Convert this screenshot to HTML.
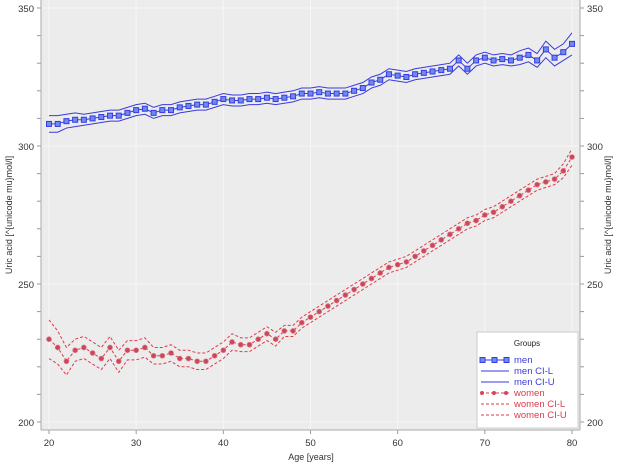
<!DOCTYPE html>
<html><head><meta charset="utf-8"><style>
body{margin:0;background:#fff;font-family:"Liberation Sans",sans-serif;}
svg text{font-family:"Liberation Sans",sans-serif;}
</style></head><body>
<svg id="c" width="623" height="468">
<rect x="41" y="0" width="539" height="430" fill="#ececec"/>
<g id="grid"></g><g id="axes"></g><g id="series"></g>
<text x="12" y="215" transform="rotate(-90 12 215)" text-anchor="middle" font-size="9" fill="#333">Uric acid [^{unicode mu}mol/l]</text>
<text x="611" y="215" transform="rotate(-90 611 215)" text-anchor="middle" font-size="9" fill="#333">Uric acid [^{unicode mu}mol/l]</text>
<text x="311" y="460" text-anchor="middle" font-size="9" fill="#333">Age [years]</text>
<g>
<rect x="477" y="332" width="101" height="96" fill="#fff" stroke="#ccc"/>
<text x="527" y="346" text-anchor="middle" font-size="8" fill="#222">Groups</text>
<g><line x1="481" y1="360" x2="508" y2="360" stroke="#3a3adf"/><rect x="480" y="357.5" width="5" height="5" fill="#6a8cf0" stroke="#3a3adf"/><rect x="492" y="357.5" width="5" height="5" fill="#6a8cf0" stroke="#3a3adf"/><rect x="504" y="357.5" width="5" height="5" fill="#6a8cf0" stroke="#3a3adf"/><text x="514" y="363" font-size="9.5" fill="#3a3adf">men</text></g>
<g><line x1="481" y1="371" x2="509" y2="371" stroke="#3a3adf"/><text x="514" y="374" font-size="9.5" fill="#3a3adf">men CI-L</text></g>
<g><line x1="481" y1="382" x2="509" y2="382" stroke="#3a3adf"/><text x="514" y="385" font-size="9.5" fill="#3a3adf">men CI-U</text></g>
<g><line x1="481" y1="393" x2="509" y2="393" stroke="#e03a4a" stroke-dasharray="3,2"/><circle cx="482" cy="393" r="2" fill="#d04858"/><circle cx="494" cy="393" r="2" fill="#d04858"/><circle cx="506" cy="393" r="2" fill="#d04858"/><text x="514" y="396" font-size="9.5" fill="#e03a4a">women</text></g>
<g><line x1="481" y1="404" x2="509" y2="404" stroke="#e03a4a" stroke-dasharray="3,2"/><text x="514" y="407" font-size="9.5" fill="#e03a4a">women CI-L</text></g>
<g><line x1="481" y1="415" x2="509" y2="415" stroke="#e03a4a" stroke-dasharray="3,2"/><text x="514" y="418" font-size="9.5" fill="#e03a4a">women CI-U</text></g>
</g>
</svg>
<script>
const ages=[];for(let a=20;a<=80;a++)ages.push(a);
const menValues=[308,308,309,309.5,309.5,310,310.5,311,311,312,313,313.5,312,313,313,314,314.5,315,315,316,317,316.5,316.5,317,317,317.5,317,317.5,318,319,319,319.5,319,319,319,320,321,323,324,326,325.5,325,326,326.5,327,327.5,328,331,328,331,332,331,331.5,331,332,333,331,335,332,334,337];
const menCIHalf=[3,3,2.5,2.5,2,2,2,2,2,2,2,2,2,2,2,2,2,2,2,2,2,2,2,2,2,2,2,2,2,2,2,2,2,2,2,2,2,2,2,2,2,2,2,2,2,2,2,2,2,2,2,2,2,2,2.5,2.5,2.5,3,3,3,4];
const womenValues=[230,227,222,226,227,225,223,227,222,226,226,227,224,224,225,223,223,222,222,224,226,229,228,228,230,232,230,233,233,236,238,240,242,244,246,248,250,252,254,256,257,258,260,262,264,266,268,270,272,273,275,276,278,280,282,284,286,287,288,291,296];
const womenCIHalf=[7,6,5,4,4,4,4,4,4,3.5,3.5,3.5,3,3,3,3,3,3,3,3,3,3,2.5,2.5,2.5,2.5,2.5,2,2,2,2,2,2,2,2,2,2,2,2,2,2,2,2,2,2,2,2,2,2,2,2,2,2,2,2,2,2,2,2,2.5,3];
const xTicks=[20,30,40,50,60,70,80];
const yTicks=[200,250,300,350];
const NS="http://www.w3.org/2000/svg";
const X=a=>49+(a-20)*(523/60);
const Y=v=>422-(v-200)*(414/150);
function mk(t,at,p){const e=document.createElementNS(NS,t);for(const k in at)e.setAttribute(k,at[k]);p.appendChild(e);return e;}
const grid=document.getElementById('grid'),axes=document.getElementById('axes'),ser=document.getElementById('series');
xTicks.forEach(t=>{const g=mk('line',{x1:X(t),x2:X(t),y1:0,y2:430,stroke:'#f6f6f6'},grid);


mk('line',{x1:X(t),x2:X(t),y1:430,y2:434,stroke:'#999'},axes);
const l=mk('text',{x:X(t),y:446,'text-anchor':'middle','font-size':'9.5',fill:'#333'},axes);l.textContent=t;

});
for(let v=200;v<=350;v+=10){mk('line',{x1:37,x2:41,y1:Y(v),y2:Y(v),stroke:'#999'},axes);mk('line',{x1:580,x2:584,y1:Y(v),y2:Y(v),stroke:'#999'},axes);}
yTicks.forEach(t=>{const g=mk('line',{x1:41,x2:580,y1:Y(t),y2:Y(t),stroke:'#f6f6f6'},grid);


const l=mk('text',{x:34,y:Y(t)+4,'text-anchor':'end','font-size':'9.5',fill:'#333'},axes);l.textContent=t;


const r=mk('text',{x:587,y:Y(t)+4,'font-size':'9.5',fill:'#333'},axes);r.textContent=t;

});
mk('line',{x1:41,x2:41,y1:0,y2:430,stroke:'#aaa'},axes);mk('line',{x1:580,x2:580,y1:0,y2:430,stroke:'#aaa'},axes);mk('line',{x1:41,x2:580,y1:430,y2:430,stroke:'#aaa'},axes);
function line(vals,col,dash,name){const p=mk('polyline',{points:vals.map((v,i)=>X(ages[i])+','+Y(v)).join(' '),fill:'none',stroke:col,'stroke-width':1,'stroke-dasharray':dash||'none'},ser);

}
line(menValues.map((v,i)=>v-menCIHalf[i]),'#3a3adf',null,'men-ci-lower');
line(menValues.map((v,i)=>v+menCIHalf[i]),'#3a3adf',null,'men-ci-upper');
line(menValues,'#3a3adf',null,'men-line');
line(womenValues.map((v,i)=>v-womenCIHalf[i]),'#e03a4a','3,2','women-ci-lower');
line(womenValues.map((v,i)=>v+womenCIHalf[i]),'#e03a4a','3,2','women-ci-upper');
line(womenValues,'#e03a4a','3,2','women-line');
menValues.forEach((v,i)=>{const r=mk('rect',{x:X(ages[i])-2.5,y:Y(v)-2.5,width:5,height:5,fill:'#6a8cf0',stroke:'#3a3adf','stroke-width':1},ser);

});
womenValues.forEach((v,i)=>{const c=mk('circle',{cx:X(ages[i]),cy:Y(v),r:2.4,fill:'#c84858',stroke:'#e07080','stroke-width':0.8},ser);

});
</script>
</body></html>
